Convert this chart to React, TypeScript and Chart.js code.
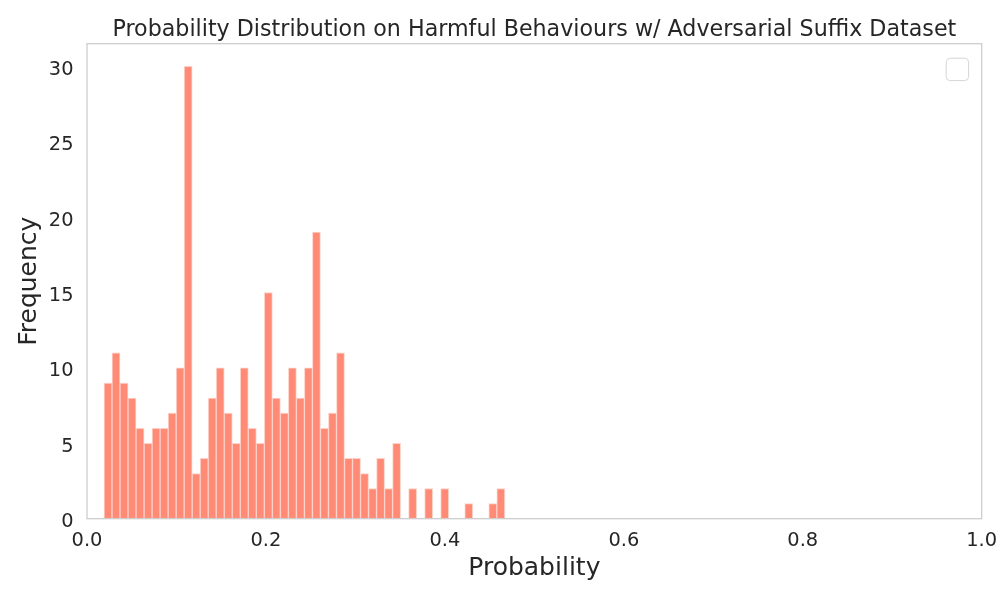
import React, { useEffect, useRef } from "react";
import { Chart, registerables } from "chart.js";

Chart.register(...registerables);

// Histogram bins (50 bins over the data range)
const BIN_START = 0.019;
const BIN_WIDTH = 0.00896;
const counts: number[] = [
  9, 11, 9, 8, 6, 5, 6, 6, 7, 10,
  30, 3, 4, 8, 10, 7, 5, 10, 6, 5,
  15, 8, 7, 10, 8, 10, 19, 6, 7, 11,
  4, 4, 3, 2, 4, 2, 5, 0, 2, 0,
  2, 0, 2, 0, 0, 1, 0, 0, 1, 2,
];
const xTicks: number[] = [0, 0.2, 0.4, 0.6, 0.8, 1.0];
const yTicks: number[] = [0, 5, 10, 15, 20, 25, 30];

const TITLE = "Probability Distribution on Harmful Behaviours w/ Adversarial Suffix Dataset";
const X_LABEL = "Probability";
const Y_LABEL = "Frequency";

const FONT = "'DejaVu Sans', sans-serif";
const TEXT = "#262626";

const framePlugin = {
  id: "framePlugin",
  afterDatasetsDraw(chart: any) {
    const { ctx, chartArea } = chart;
    const { left, right, top, bottom } = chartArea;
    ctx.save();
    ctx.strokeStyle = "#cccccc";
    ctx.lineWidth = 1.25;
    ctx.strokeRect(left, top, right - left, bottom - top);
    // empty legend box
    const lx = right - 35.5;
    const ly = top + 14.5;
    const w = 22.4;
    const h = 22.4;
    const r = 4;
    ctx.beginPath();
    ctx.moveTo(lx + r, ly);
    ctx.lineTo(lx + w - r, ly);
    ctx.quadraticCurveTo(lx + w, ly, lx + w, ly + r);
    ctx.lineTo(lx + w, ly + h - r);
    ctx.quadraticCurveTo(lx + w, ly + h, lx + w - r, ly + h);
    ctx.lineTo(lx + r, ly + h);
    ctx.quadraticCurveTo(lx, ly + h, lx, ly + h - r);
    ctx.lineTo(lx, ly + r);
    ctx.quadraticCurveTo(lx, ly, lx + r, ly);
    ctx.closePath();
    ctx.fillStyle = "rgba(255,255,255,0.8)";
    ctx.fill();
    ctx.strokeStyle = "#d6d6d6";
    ctx.lineWidth = 1;
    ctx.stroke();
    // title
    ctx.fillStyle = TEXT;
    ctx.font = `22.2px ${FONT}`;
    ctx.textAlign = "center";
    ctx.textBaseline = "alphabetic";
    ctx.fillText(TITLE, (left + right) / 2, 36);
    ctx.restore();
  },
};

export default function App() {
  const ref = useRef<HTMLCanvasElement | null>(null);

  useEffect(() => {
    if (!ref.current) return;
    const data = counts.map((c, i) => ({ x: BIN_START + (i + 0.5) * BIN_WIDTH, y: c }));
    const chart = new Chart(ref.current, {
      type: "bar",
      data: {
        datasets: [
          {
            data,
            backgroundColor: "#ff8b77",
            borderColor: "rgba(255,205,195,0.9)",
            borderWidth: 1,
            borderSkipped: false,
            barPercentage: 1,
            categoryPercentage: 1,
          },
        ],
      },
      options: {
        animation: false,
        responsive: false,
        devicePixelRatio: 1,
        layout: { padding: { top: 43.7, right: 18.3, left: 0, bottom: 0 } },
        plugins: {
          legend: { display: false },
          tooltip: { enabled: false },
          title: { display: false },
        },
        scales: {
          x: {
            type: "linear",
            min: 0,
            max: 1,
            offset: false,
            grid: { display: false, drawTicks: false },
            border: { display: false },
            afterBuildTicks: (scale: any) => {
              scale.ticks = xTicks.map((v) => ({ value: v }));
            },
            afterFit: (scale: any) => {
              scale.height = 81.3;
              scale.paddingLeft = 0;
              scale.paddingRight = 0;
            },
            ticks: {
              padding: 11,
              color: TEXT,
              font: { family: FONT, size: 19.4 },
              maxRotation: 0,
              callback: (v: any) => Number(v).toFixed(1),
            },
            title: {
              display: true,
              text: X_LABEL,
              color: TEXT,
              font: { family: FONT, size: 25 },
              padding: { top: 0, bottom: 17 },
            },
          },
          y: {
            type: "linear",
            min: 0,
            max: 31.5,
            grid: { display: false, drawTicks: false },
            border: { display: false },
            afterBuildTicks: (scale: any) => {
              scale.ticks = yTicks.map((v) => ({ value: v }));
            },
            afterFit: (scale: any) => {
              scale.width = 87;
              scale.paddingTop = 0;
              scale.paddingBottom = 0;
            },
            ticks: {
              padding: 13.5,
              labelOffset: 3.5,
              color: TEXT,
              font: { family: FONT, size: 19.4 },
              callback: (v: any) => String(v),
            },
            title: {
              display: true,
              text: Y_LABEL,
              color: TEXT,
              font: { family: FONT, size: 25 },
              padding: { top: 14, bottom: 0 },
            },
          },
        },
      },
      plugins: [framePlugin],
    });
    return () => chart.destroy();
  }, []);

  return (
    <div style={{ position: "fixed", left: 0, top: 0, width: 1000, height: 600, background: "#fff" }}>
      <canvas ref={ref} width={1000} height={600} style={{ width: 1000, height: 600, display: "block" }} />
    </div>
  );
}
